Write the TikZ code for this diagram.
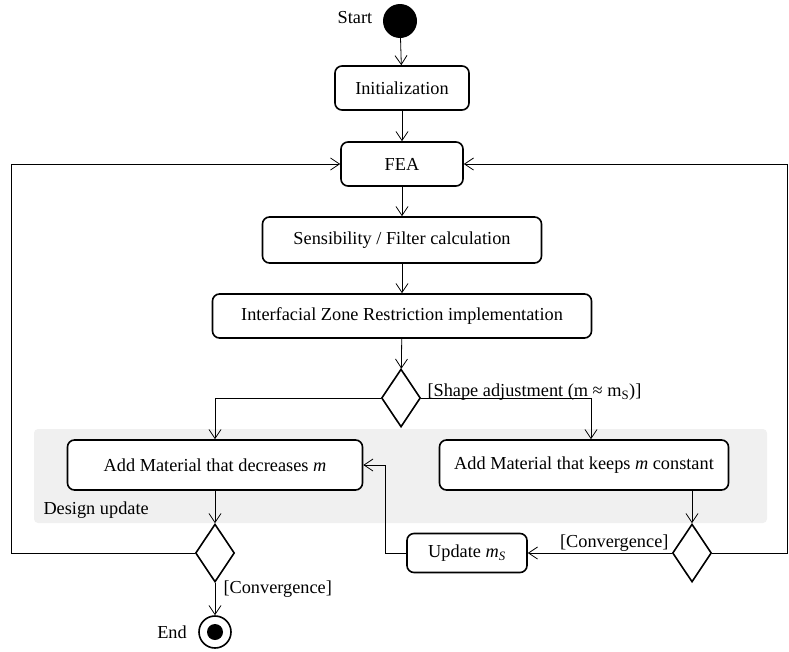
\documentclass[tikz,border=0pt]{standalone}
\usepackage{fontspec}
\setmainfont{Liberation Serif}
\usetikzlibrary{shapes.geometric,arrows.meta}

\begin{document}
\begin{tikzpicture}[x=1pt,y=-1pt,
    every node/.style={font=\fontsize{18.3}{22}\selectfont},
    action/.style={draw,fill=white,line width=1.6pt,rounded corners=7pt,minimum height=44pt},
    decision/.style={draw,fill=white,diamond,line width=1.6pt,minimum width=39pt,minimum height=58pt,inner sep=0pt},
    flow/.style={line width=0.8pt,-{Straight Barb[length=9pt,width=12pt]}}]
    \path[use as bounding box] (0,0) rectangle (789,651);

    \fill [fill=gray!12, rounded corners=4pt] (34,429) rectangle (767,523);

    \node (start) at (400,21) [circle,fill=black,minimum size=34pt,inner sep=0pt] {};
    \node (start-label) at (355,18) [] {Start};

    \node (init) at (402,88) [action,minimum width=134pt] {Initialization};
    \node (fea) at (402,164) [action,minimum width=122pt] {FEA};
    \node (sens) at (402,240) [action,minimum width=279pt,minimum height=46pt] {Sensibility / Filter calculation};
    \node (zone) at (402,316) [action,minimum width=379pt] {Interfacial Zone Restriction implementation};

    \node (split) at (401,398) [decision] {};
    \node (shape-label) at (424,392) [anchor=west] {[Shape adjustment (m ≈ m\textsubscript{S})]};

    \node (design-label) at (40,510) [anchor=west] {Design update};
    \node (add-dec) at (215,465) [action,minimum width=295pt,minimum height=50pt] {Add Material that decreases \textit{m}};
    \node (add-keep) at (584,465) [action,minimum width=289pt,minimum height=50pt] {Add Material that keeps \textit{m} constant};

    \node (merge-left) at (215,553) [decision] {};
    \node (merge-right) at (692,553) [decision] {};
    \node (update) at (467,553) [action,minimum width=120pt,minimum height=39pt] {Update \textit{m}\textsubscript{\textit{S}}};

    \node (conv-right) at (672,543) [anchor=east] {[Convergence]};
    \node (conv-end) at (220,589) [anchor=west] {[Convergence]};

    \node (end) at (215,632) [circle,draw,line width=1.6pt,minimum size=32pt,inner sep=0pt] {};
    \node (end-dot) at (end.center) [circle,fill=black,minimum size=16pt,inner sep=0pt] {};
    \node (end-label) at (172,632) [] {End};

    \coordinate (loop-left) at (11,0);
    \coordinate (loop-right) at (787,0);
    \coordinate (update-turn) at (385,553);

    \draw [flow] (start) -- (init);
    \draw [flow] (init) -- (fea);
    \draw [flow] (fea) -- (sens);
    \draw [flow] (sens) -- (zone);
    \draw [flow] (zone) -- (split);

    \draw [flow] (split.west) -| (add-dec.north);
    \draw [flow] (split.east) -| ([xshift=7pt]add-keep.north);

    \draw [flow] (add-dec) -- (merge-left);
    \draw [flow] (add-keep.south -| merge-right) -- (merge-right);

    \draw [flow] (merge-left) -- (end);
    \draw [flow] (merge-left.west) -- (merge-left.west -| loop-left) |- (fea.west);
    \draw [flow] (merge-right.east) -- (merge-right.east -| loop-right) |- (fea.east);
    \draw [flow] (merge-right) -- (update);
    \draw [flow] (update) -- (update-turn) |- (add-dec.east);
  \end{tikzpicture}
\end{document}
